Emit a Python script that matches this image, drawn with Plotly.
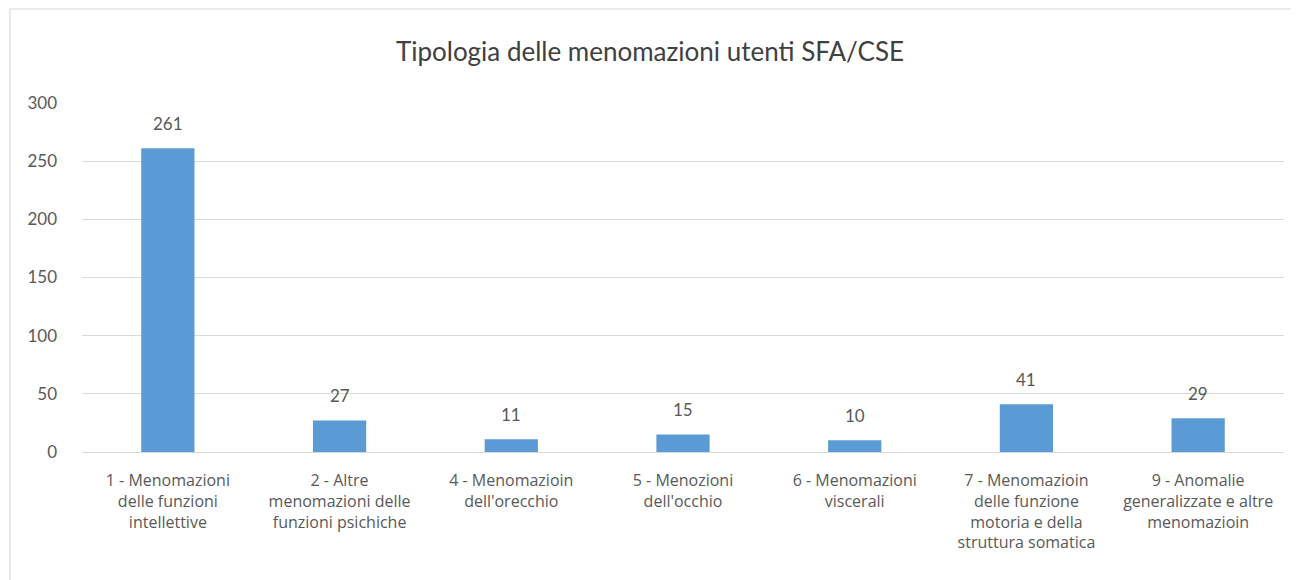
import plotly.graph_objects as go

categories = [
    "1 - Menomazioni<br>delle funzioni<br>intellettive",
    "2 - Altre<br>menomazioni delle<br>funzioni psichiche",
    "4 - Menomazioin<br>dell'orecchio",
    "5 - Menozioni<br>dell'occhio",
    "6 - Menomazioni<br>viscerali",
    "7 - Menomazioin<br>delle funzione<br>motoria e della<br>struttura somatica",
    "9 - Anomalie<br>generalizzate e altre<br>menomazioin",
]
values = [261, 27, 11, 15, 10, 41, 29]
y_ticks = [0, 50, 100, 150, 200, 250, 300]

W, H = 1299, 580
OFF = 8  # page body margin
ML, MR, MT, MB = 74, 23, 95, 136
FONT = "Lato, 'Open Sans', sans-serif"
CFONT = "'Open Sans', Lato, sans-serif"
GREY = "#595959"

fig = go.Figure(
    go.Bar(
        x=categories,
        y=values,
        marker=dict(color="#5B9BD5", line=dict(width=0)),
        hoverinfo="x+y",
    )
)

for c, v in zip(categories, values):
    fig.add_annotation(
        x=c, y=v, text=str(v), showarrow=False,
        yanchor="middle", yshift=25,
        font=dict(size=17, color=GREY, family=FONT),
    )

pw = W - ML - MR
ph = H - MT - MB
fig.add_shape(
    type="rect", xref="paper", yref="paper",
    x0=(2 - ML) / pw, x1=(W + 20 - ML) / pw,
    y0=-(600 - (H - MB)) / ph,
    y1=(H - MB - 1) / ph,
    line=dict(color="#d9d9d9", width=1.2), fillcolor="rgba(0,0,0,0)", layer="below",
)

fig.update_layout(
    width=W, height=H,
    margin=dict(l=ML, r=MR, t=MT, b=MB),
    paper_bgcolor="white", plot_bgcolor="white",
    bargap=0.69,
    showlegend=False,
    title=dict(
        text="Tipologia delle menomazioni utenti SFA/CSE",
        x=(650 - OFF) / W, xanchor="center", y=1 - 44 / H, yanchor="middle",
        font=dict(size=26, color="#404040", family=FONT),
    ),
    font=dict(family=FONT, color=GREY),
    xaxis=dict(
        tickfont=dict(size=16, color=GREY, family=CFONT),
        showgrid=False, showline=False, ticks="",
        ticklabelstandoff=17,
    ),
    yaxis=dict(
        range=[0, 300], tickvals=y_ticks,
        tickfont=dict(size=17, color=GREY, family=FONT),
        gridcolor="#d9d9d9", gridwidth=1,
        zeroline=True, zerolinecolor="#d9d9d9", zerolinewidth=1,
        showline=False, ticks="", ticklabelstandoff=24,
    ),
)

fig.write_html("out.html")
